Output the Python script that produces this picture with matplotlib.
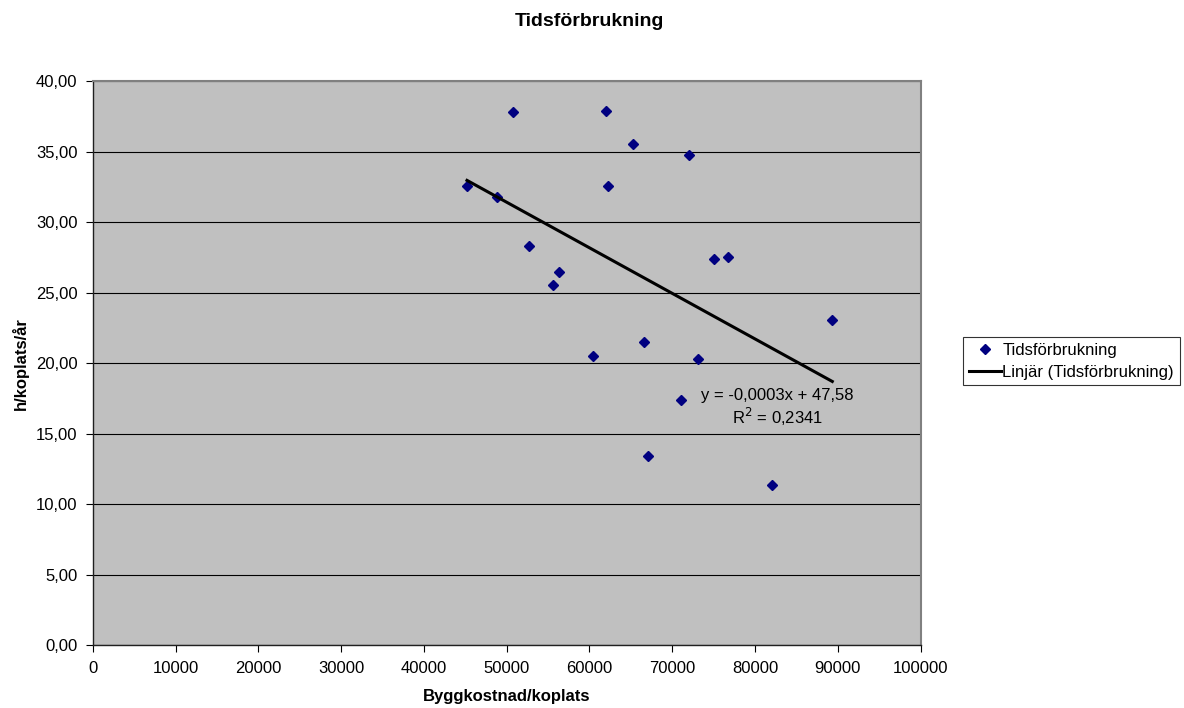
import numpy as np
import matplotlib
matplotlib.use("Agg")
import matplotlib.pyplot as plt
from matplotlib.ticker import FuncFormatter, MultipleLocator

plt.rcParams['font.family'] = ['Liberation Sans', 'DejaVu Sans']

# Construction cost per parking space (SEK) and time use (h per space and year)
byggkostnad = [45205, 48792, 50725, 62029, 65254, 72053, 62234, 52729, 56280, 55556,
               60459, 66622, 73068, 74999, 76768, 89324, 71092, 67065, 82041]
tidsforbrukning = [32.57, 31.82, 37.84, 37.89, 35.53, 34.77, 32.57, 28.34, 26.45, 25.55,
                   20.50, 21.49, 20.30, 27.38, 27.52, 23.07, 17.40, 13.40, 11.37]

title = "Tidsförbrukning"
x_label = "Byggkostnad/koplats"
y_label = "h/koplats/år"
series_name = "Tidsförbrukning"
trend_name = "Linjär (Tidsförbrukning)"
trend_text = "y = -0,0003x + 47,58\nR$^2$ = 0,2341"

# Least-squares linear trend over the data range
x = np.array(byggkostnad, dtype=float)
y = np.array(tidsforbrukning, dtype=float)
slope, intercept = np.polyfit(x, y, 1)
x_fit = np.array([x.min(), x.max()])
y_fit = slope * x_fit + intercept

fig = plt.figure(figsize=(11.84, 7.08), dpi=100)
ax = fig.add_axes([0.0783, 0.0886, 0.6993, 0.7966])
ax.set_facecolor('#c0c0c0')

ax.set_xlim(0, 100000)
ax.set_ylim(0, 40)
ax.xaxis.set_major_locator(MultipleLocator(10000))
ax.yaxis.set_major_locator(MultipleLocator(5))
ax.yaxis.set_major_formatter(FuncFormatter(lambda v, p: f"{v:.2f}".replace('.', ',')))
ax.xaxis.set_major_formatter(FuncFormatter(lambda v, p: f"{int(round(v))}"))

ax.grid(axis='y', color='black', linewidth=0.8)
ax.set_axisbelow(True)

ax.plot(x, y, linestyle='none', marker='D', markersize=5.6, color='#000080',
        label=series_name, zorder=3)
ax.plot(x_fit, y_fit, color='black', linewidth=2.2, label=trend_name, zorder=4)

ax.text(82650, 16.85, trend_text, ha='center', va='center', fontsize=12,
        linespacing=1.15, zorder=5)

for side in ('top', 'right'):
    ax.spines[side].set_color('#808080')
    ax.spines[side].set_linewidth(1.5)
for side in ('left', 'bottom'):
    ax.spines[side].set_color('#202020')
    ax.spines[side].set_linewidth(1.0)

ax.tick_params(axis='both', direction='out', length=5, width=0.8,
               labelsize=12, colors='black', pad=6)

ax.set_xlabel(x_label, fontsize=12, fontweight='bold', labelpad=10)
ax.set_ylabel(y_label, fontsize=12, fontweight='bold', labelpad=5)
fig.text(0.498, 1 - 22 / 708, title, ha='center', va='center', fontsize=14,
         fontweight='bold')

leg = fig.legend(loc='upper left', bbox_to_anchor=(963 / 1184, 1 - 337 / 708),
                 frameon=True, fancybox=False, fontsize=12, handlelength=1.9,
                 handletextpad=0.1, borderpad=0.35, labelspacing=0.4,
                 borderaxespad=0)
leg.get_frame().set_edgecolor('black')
leg.get_frame().set_linewidth(0.8)

fig.savefig("out.png", dpi=100)
